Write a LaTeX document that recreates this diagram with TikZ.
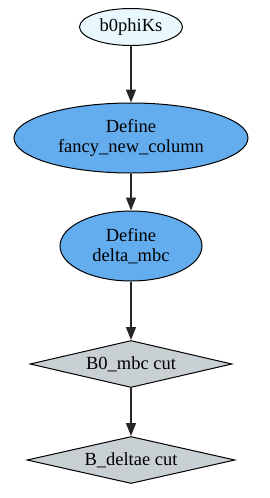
\documentclass[tikz,border=0pt]{standalone}
\usepackage{fontspec}
\setmainfont{Liberation Serif}
\usetikzlibrary{shapes.geometric,arrows.meta}
\definecolor{startfill}{HTML}{E8F8FC}
\definecolor{deffill}{HTML}{63ACEE}
\definecolor{cutfill}{HTML}{C8D0D4}
\tikzset{
  base/.style={draw=black, line width=1pt, inner sep=0pt, align=center,
    font=\fontsize{18.5pt}{20.5pt}\selectfont},
  startnode/.style={base, ellipse, fill=startfill, minimum width=103pt, minimum height=37pt},
  defnode/.style={base, ellipse, fill=deffill, minimum height=70pt},
  cutnode/.style={base, diamond, aspect=4, fill=cutfill, minimum height=47pt},
  link/.style={draw=black!85, line width=1.2pt, -{Triangle[length=13pt,width=10pt]}},
}
\begin{document}
\begin{tikzpicture}[x=1pt,y=1pt]
\useasboundingbox (0,0) rectangle (270,-498);
\node[startnode] (a) at (131,-27) {b0phiKs};
\node[defnode, minimum width=234pt] (b) at (131,-138) {Define\\fancy\_new\_column};
\node[defnode, minimum width=142pt] (c) at (131,-246) {Define\\delta\_mbc};
\node[cutnode, minimum width=202pt] (d) at (131,-364) {B0\_mbc cut};
\node[cutnode, minimum width=208pt] (e) at (131,-460) {B\_deltae cut};
\draw[link] (a) -- (b);
\draw[link] (b) -- (c);
\draw[link] (c) -- (d);
\draw[link] (d) -- (e);
\end{tikzpicture}
\end{document}
